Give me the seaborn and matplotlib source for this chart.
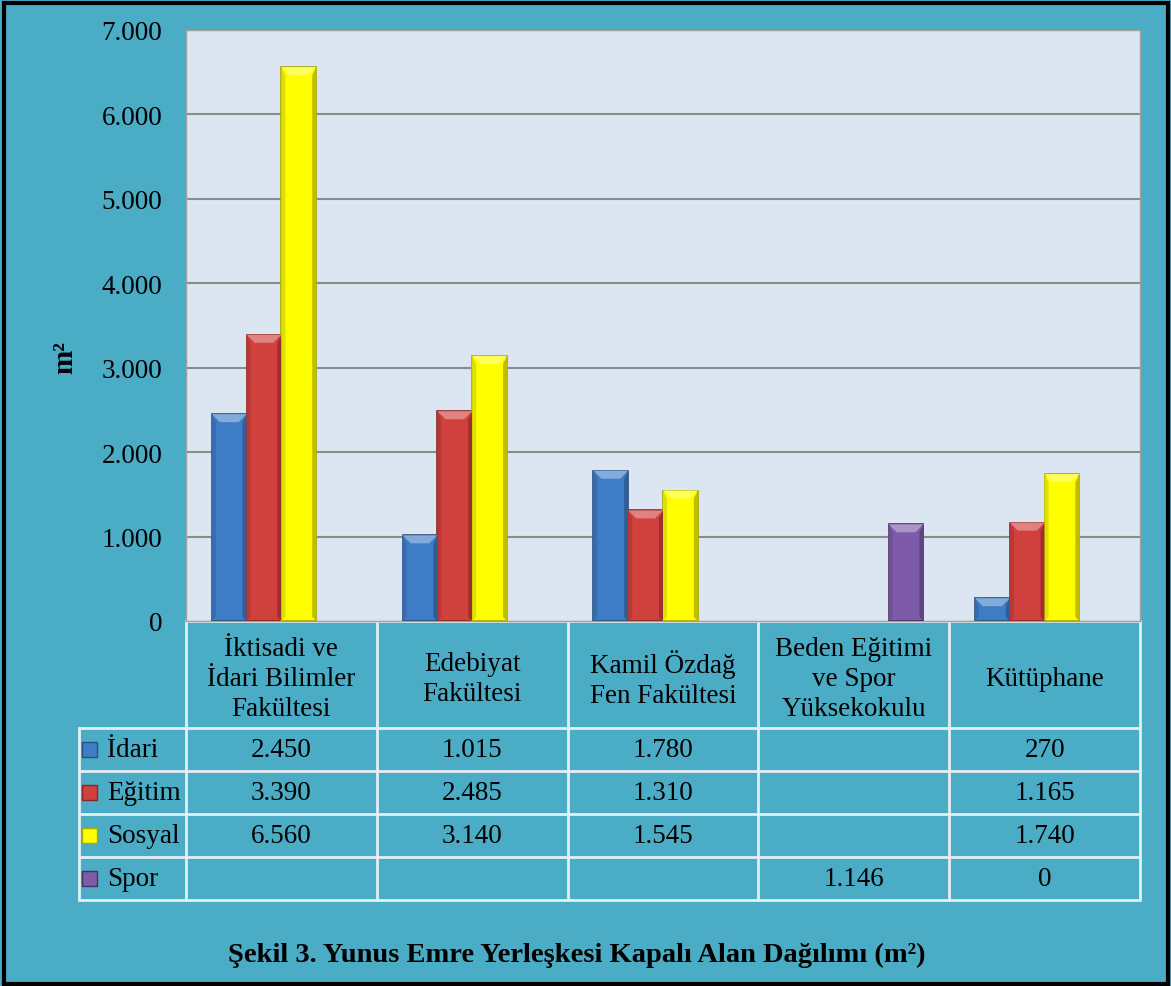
import pandas as pd
import matplotlib.pyplot as plt
import matplotlib.patches as mpatches
from matplotlib.transforms import blended_transform_factory
import matplotlib.colors as mcolors
import seaborn as sns

# -----------------------------
# Data
# -----------------------------
categories = ["İktisadi ve\nİdari Bilimler\nFakültesi", "Edebiyat\nFakültesi",
              "Kamil Özdağ\nFen Fakültesi", "Beden Eğitimi\nve Spor\nYüksekokulu", "Kütüphane"]
series = ["İdari", "Eğitim", "Sosyal", "Spor"]
idari = [2450, 1015, 1780, None, 270]
egitim = [3390, 2485, 1310, None, 1165]
sosyal = [6560, 3140, 1545, None, 1740]
spor = [None, None, None, 1146, 0]
y_ticks = [0, 1000, 2000, 3000, 4000, 5000, 6000, 7000]

colors = {"İdari": "#3F7CC6", "Eğitim": "#D0403C", "Sosyal": "#FFFF00", "Spor": "#7E5BA8"}
edges = {"İdari": "#27507F", "Eğitim": "#8A2724", "Sosyal": "#A8A800", "Spor": "#47305F"}

# -----------------------------
# Theme
# -----------------------------
sns.set_theme(style="white")
plt.rcParams["font.family"] = ["Liberation Serif", "DejaVu Serif"]
plt.rcParams["text.color"] = "black"
plt.rcParams["ytick.color"] = "black"

BG = "#4BACC6"
PLOT_BG = "#DCE6F2"
LINE = "#E4EFF3"
FS = 19.5


def shade(c, f):
    r, g, b = mcolors.to_rgb(c)
    if f > 0:
        return (r + (1 - r) * f, g + (1 - g) * f, b + (1 - b) * f)
    return (r * (1 + f), g * (1 + f), b * (1 + f))


values = {"İdari": idari, "Eğitim": egitim, "Sosyal": sosyal, "Spor": spor}
rows = []
for s in series:
    for c, v in zip(categories, values[s]):
        if v is not None:
            rows.append({"Birim": c, "Tür": s, "Alan": v})
df = pd.DataFrame(rows)

fig = plt.figure(figsize=(11.71, 9.87), dpi=100, facecolor=BG)
ax = fig.add_axes([186 / 1171, 1 - 622 / 987, (1140 - 186) / 1171, (622 - 31) / 987])
ax.set_facecolor(PLOT_BG)

sns.barplot(data=df, x="Birim", y="Alan", hue="Tür", order=categories, hue_order=series,
            palette=colors, width=0.73, errorbar=None, ax=ax, legend=False, saturation=1)

n_cat = len(categories)
ax.set_xlim(-0.5, n_cat - 0.5)
ax.set_ylim(0, 7000)

# bevel look: darker sides, lighter top facet
fig.canvas.draw()
inv = ax.transData.inverted()
for i, container in enumerate(ax.containers):
    s = series[i]
    for bar in container:
        bar.set_zorder(3)
        if bar.get_height() <= 0:
            bar.set_linewidth(0)
            continue
        bar.set_edgecolor(edges[s])
        bar.set_linewidth(1.2)
        (x0, y0), (x1, y1) = ax.transData.transform(
            [(bar.get_x(), 0), (bar.get_x() + bar.get_width(), bar.get_height())])
        d = 8
        facets = [
            ([(x0, y1), (x1, y1), (x1 - d, y1 - d), (x0 + d, y1 - d)], shade(colors[s], 0.35)),
            ([(x0, y0), (x0 + 4, y0 + 4), (x0 + 4, y1 - d), (x0, y1)], shade(colors[s], -0.12)),
            ([(x1, y0), (x1 - 4, y0 + 4), (x1 - 4, y1 - d), (x1, y1)], shade(colors[s], -0.25)),
        ]
        for pts, fc in facets:
            ax.add_patch(mpatches.Polygon(inv.transform(pts), closed=True, facecolor=fc,
                                          edgecolor="none", zorder=3.5))

ax.set_yticks(y_ticks)
ax.set_yticklabels([f"{t:,}".replace(",", ".") for t in y_ticks], fontsize=FS)
ax.tick_params(axis="y", length=0, pad=17, labelcolor="black")
ax.set_xticks([])
ax.set_xlabel("")
ax.set_ylabel("")
ax.yaxis.grid(True, color="#8C8C8C", linewidth=1.5, zorder=0)
ax.set_axisbelow(True)
for sp in ax.spines.values():
    sp.set_color("#A0A0A0")
    sp.set_linewidth(1)

# -----------------------------
# Data table below the plot
# -----------------------------
trans = blended_transform_factory(ax.transData, ax.transAxes)
px_h = 622 - 31
header_h = 107 / px_h
row_h = 43 / px_h
left_x = -0.5 - 107 / 191
y_top = 0
y_header_bot = -header_h
y_rows = [y_header_bot - i * row_h for i in range(len(series) + 1)]

line_kw = dict(color=LINE, linewidth=2, transform=trans, clip_on=False)
ax.plot([-0.5, n_cat - 0.5], [y_top, y_top], **line_kw)
for y in y_rows:
    ax.plot([left_x, n_cat - 0.5], [y, y], **line_kw)
for k in range(n_cat + 1):
    ax.plot([k - 0.5, k - 0.5], [y_top, y_rows[-1]], **line_kw)
ax.plot([left_x, left_x], [y_rows[0], y_rows[-1]], **line_kw)

for k, c in enumerate(categories):
    ax.text(k, -header_h / 2 - 4 / px_h, c, transform=trans, ha="center", va="center",
            fontsize=FS, linespacing=1.27, clip_on=False)

sw = 15 / px_h
for r, s in enumerate(series):
    yc = (y_rows[r] + y_rows[r + 1]) / 2
    ax.add_patch(mpatches.Rectangle((-0.5 - 104 / 191, yc - sw / 2), 15 / 191, sw,
                                    facecolor=colors[s], edgecolor=edges[s], linewidth=1,
                                    transform=trans, clip_on=False))
    ax.text(-0.5 - 79 / 191, yc, s, transform=trans, ha="left", va="center",
            fontsize=FS, clip_on=False)
    for k, v in enumerate(values[s]):
        if v is not None:
            ax.text(k, yc, f"{v:,}".replace(",", "."), transform=trans, ha="center",
                    va="center", fontsize=FS, clip_on=False)

# axis label and caption
fig.text(65 / 1171, 1 - 358 / 987, "m²", rotation=90, ha="center", va="center",
         fontsize=21, fontweight="bold")
fig.text(577 / 1171, 1 - 955 / 987, "Şekil 3. Yunus Emre Yerleşkesi Kapalı Alan Dağılımı (m²)",
         ha="center", va="center", fontsize=20.5, fontweight="bold")

# outer border
fig.patches.append(mpatches.Rectangle((4 / 1171, 2 / 987), 1164 / 1171, 981 / 987,
                                      transform=fig.transFigure, fill=False,
                                      edgecolor="black", linewidth=3))

fig.savefig("out.png", dpi=100, facecolor=BG)
